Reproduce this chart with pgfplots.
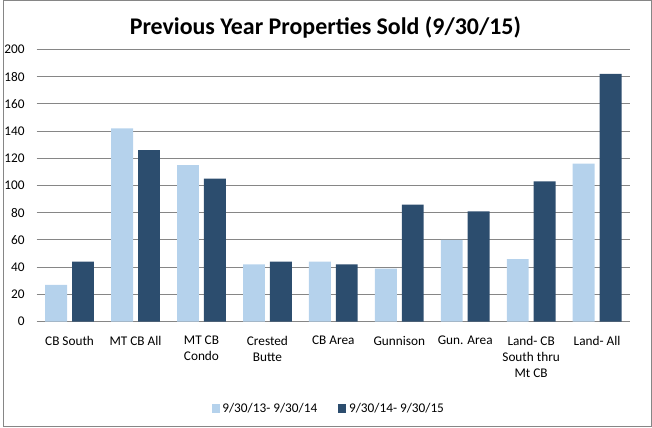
\documentclass[border=0pt]{standalone}
\usepackage{pgfplots}
\pgfplotsset{compat=1.18}
\usepackage{fontspec}
\setmainfont{Carlito}
\definecolor{lightbar}{RGB}{181,210,236}
\definecolor{darkbar}{RGB}{44,77,110}
\definecolor{gridgray}{RGB}{134,134,134}
\begin{document}
\begin{tikzpicture}[x=0.75pt,y=0.75pt]
\draw[gridgray, line width=0.75pt] (0.5,0.5) rectangle (651.5,428.5);
\node[anchor=base, font=\fontsize{18}{20}\selectfont\bfseries] at (324,394) {Previous Year Properties Sold (9/30/15)};
\begin{axis}[
  at={(25.5pt,79.5pt)}, anchor=south west,
  scale only axis, width=447pt, height=205.1pt,
  ybar=3.75pt, bar width=16.5pt,
  xmin=-0.5, xmax=8.5, ymin=0, ymax=200,
  ytick={0,20,...,200},
  xtick=data,
  xticklabels={CB South, MT CB All, MT CB\\Condo, Crested\\Butte, CB Area, Gunnison, Gun. Area, Land- CB\\South thru\\Mt CB, Land- All},
  xticklabel style={align=center, font=\fontsize{10}{12}\selectfont, yshift=-7.5pt},
  yticklabel style={font=\fontsize{10}{12}\selectfont, xshift=-5.5pt},
  /pgf/number format/assume math mode=true,
  major tick length=0pt,
  axis line style={draw=none},
  ymajorgrids, major grid style={gridgray, line width=0.75pt},
  legend columns=2,
  legend style={at={(0.493,-0.322)}, anchor=center, draw=none, font=\fontsize{10}{12}\selectfont,
    /tikz/every even column/.append style={column sep=14pt}},
  legend image code/.code={\fill[#1] (0pt,-3pt) rectangle (6pt,4pt);},
]
\addplot[fill=lightbar, draw=none] coordinates {(0,27) (1,142) (2,115) (3,42) (4,44) (5,39) (6,60) (7,46) (8,116)};
\addplot[fill=darkbar, draw=none] coordinates {(0,44) (1,126) (2,105) (3,44) (4,42) (5,86) (6,81) (7,103) (8,182)};
\legend{9/30/13- 9/30/14, 9/30/14- 9/30/15}
\end{axis}
\end{tikzpicture}
\end{document}
